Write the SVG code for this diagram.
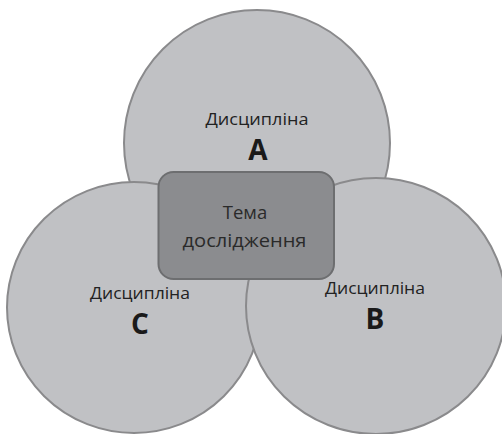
<svg xmlns="http://www.w3.org/2000/svg" width="502" height="434" viewBox="0 0 502 434">
  <style>
    .disc { fill: #c0c1c4; stroke: #8a8a8c; stroke-width: 2; }
    .topic { fill: #8b8c8f; stroke: #6d6e70; stroke-width: 2; }
    .lbl { font-family: "Open Sans", "Noto Sans", sans-serif; font-size: 16.8px; fill: #222222; text-anchor: middle; }
    .big { font-family: "Open Sans", "Noto Sans", sans-serif; font-size: 28px; font-weight: bold; fill: #1a1a1a; text-anchor: middle; }
    .tlbl { font-family: "Open Sans", "Noto Sans", sans-serif; font-size: 18.5px; fill: #2a2a2a; text-anchor: middle; }
  </style>
  <rect width="502" height="434" fill="#ffffff"/>

  <!-- Discipline A -->
  <g id="discipline-a">
    <ellipse class="disc" cx="257" cy="143" rx="133" ry="133"/>
    <text class="lbl" x="257" y="125" textLength="103" lengthAdjust="spacingAndGlyphs">Дисципліна</text>
    <text class="big" x="258" y="160">A</text>
  </g>

  <!-- Discipline C -->
  <g id="discipline-c">
    <ellipse class="disc" cx="134" cy="307.5" rx="127" ry="125.5"/>
    <text class="lbl" x="140" y="298.5" textLength="100" lengthAdjust="spacingAndGlyphs">Дисципліна</text>
    <text class="big" x="140" y="333.5">C</text>
  </g>

  <!-- Discipline B -->
  <g id="discipline-b">
    <ellipse class="disc" cx="376" cy="306" rx="130" ry="128"/>
    <text class="lbl" x="375" y="294" textLength="100" lengthAdjust="spacingAndGlyphs">Дисципліна</text>
    <text class="big" x="375" y="328.5">B</text>
  </g>

  <!-- Research topic -->
  <g id="topic">
    <rect class="topic" x="158.5" y="172" width="175.5" height="107" rx="15" ry="15"/>
    <text class="tlbl" x="245" y="218.5">Тема</text>
    <text class="tlbl" x="244.5" y="246.5" textLength="124" lengthAdjust="spacingAndGlyphs">дослідження</text>
  </g>

  <g id="connectors"></g>
</svg>
